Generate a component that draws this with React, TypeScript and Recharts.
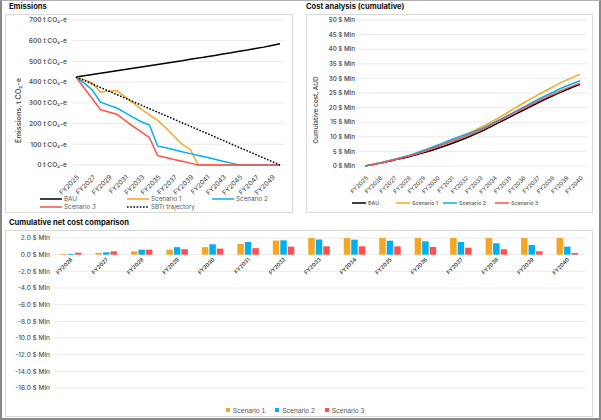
import { LineChart, Line, BarChart, Bar, XAxis, YAxis, CartesianGrid, Legend, ReferenceDot } from 'recharts';

// ---- Emissions (t CO2-e) ----
const emissionYears = [
  'FY2025', 'FY2026', 'FY2027', 'FY2028', 'FY2029', 'FY2030', 'FY2031', 'FY2032', 'FY2033',
  'FY2034', 'FY2035', 'FY2036', 'FY2037', 'FY2038', 'FY2039', 'FY2040', 'FY2041', 'FY2042',
  'FY2043', 'FY2044', 'FY2045', 'FY2046', 'FY2047', 'FY2048', 'FY2049', 'FY2050',
];
const emissionsBau = [425, 431, 437, 443, 449, 455, 461, 467, 473, 479, 485, 491, 497, 503, 510, 516, 523, 529, 536, 542, 549, 555, 562, 569, 577, 585];
const emissionsScenario1 = [425, 412, 395, 352, 356, 360, 330, 300, 270, 242, 215, 180, 140, 100, 75, 0, 0, 0, 0, 0, 0, 0, 0, 0, 0, 0];
const emissionsScenario2 = [425, 395, 362, 303, 289, 275, 253, 230, 209, 193, 92, 83, 74, 64, 55, 46, 37, 28, 18, 9, 0, 0, 0, 0, 0, 0];
const emissionsScenario3 = [425, 372, 320, 267, 256, 245, 215, 187, 160, 132, 45, 36, 27, 18, 9, 0, 0, 0, 0, 0, 0, 0, 0, 0, 0, 0];
const sbtiTrajectory = [425, 408, 391, 374, 357, 340, 323, 306, 289, 272, 255, 238, 221, 204, 187, 170, 153, 136, 119, 102, 85, 68, 51, 34, 17, 0];
const emissionTicks = [0, 100, 200, 300, 400, 500, 600, 700];

// ---- Cumulative cost ($ Mln) ----
const costYears = [
  'FY2025', 'FY2026', 'FY2027', 'FY2028', 'FY2029', 'FY2030', 'FY2031', 'FY2032',
  'FY2033', 'FY2034', 'FY2035', 'FY2036', 'FY2037', 'FY2038', 'FY2039', 'FY2040',
];
const costBau = [0, 0.9, 2.0, 3.1, 4.4, 5.9, 7.6, 9.5, 11.6, 14.0, 16.5, 19.0, 21.5, 23.8, 26.0, 28.0];
const costScenario1 = [0, 1.0, 2.2, 3.4, 4.8, 6.6, 8.7, 10.8, 13.0, 15.6, 18.5, 21.4, 24.2, 26.8, 29.3, 31.4];
const costScenario2 = [0, 1.0, 2.2, 3.5, 5.2, 7.0, 9.0, 10.7, 12.5, 14.9, 17.4, 20.0, 22.6, 25.0, 27.3, 29.2];
const costScenario3 = [0, 0.9, 2.1, 3.3, 4.8, 6.5, 8.3, 10.1, 12.1, 14.5, 17.1, 19.6, 22.0, 24.3, 26.5, 28.3];
const costTicks = [0, 5, 10, 15, 20, 25, 30, 35, 40, 45, 50];

// ---- Cumulative net cost ($ Mln) ----
const netYears = [
  'FY2026', 'FY2027', 'FY2028', 'FY2029', 'FY2030', 'FY2031', 'FY2032', 'FY2033',
  'FY2034', 'FY2035', 'FY2036', 'FY2037', 'FY2038', 'FY2039', 'FY2040',
];
const netScenario1 = [0.1, 0.2, 0.4, 0.6, 0.9, 1.3, 1.7, 2.0, 2.0, 2.0, 2.0, 2.0, 2.0, 2.0, 2.0];
const netScenario2 = [0.1, 0.28, 0.6, 0.9, 1.25, 1.52, 1.72, 1.82, 1.8, 1.68, 1.6, 1.52, 1.36, 1.16, 0.96];
const netScenario3 = [0.24, 0.4, 0.6, 0.66, 0.72, 0.78, 0.96, 1.0, 1.0, 1.0, 0.92, 0.84, 0.64, 0.4, 0.2];
const netTicks = [-16, -14, -12, -10, -8, -6, -4, -2, 0, 2];

const emissionsData = emissionYears.map((year, i) => ({
  year,
  bau: emissionsBau[i],
  s1: emissionsScenario1[i],
  s2: emissionsScenario2[i],
  s3: emissionsScenario3[i],
  sbti: sbtiTrajectory[i],
}));

const costData = costYears.map((year, i) => ({
  year,
  bau: costBau[i],
  s1: costScenario1[i],
  s2: costScenario2[i],
  s3: costScenario3[i],
}));

const netData = netYears.map((year, i) => ({
  year,
  s1: netScenario1[i],
  s2: netScenario2[i],
  s3: netScenario3[i],
}));

const FONT = 'Inter, "Noto Sans", sans-serif';
const GREY = '#595959';
const GRID = '#e4e4e4';
const ORANGE = '#F5A623';
const BLUE = '#00B0F0';
const RED = '#FF4F4F';

const emissionSeries = [
  { key: 'bau', name: 'BAU', color: '#000000', dash: undefined },
  { key: 's1', name: 'Scenario 1', color: ORANGE, dash: undefined },
  { key: 's2', name: 'Scenario 2', color: BLUE, dash: undefined },
  { key: 's3', name: 'Scenario 3', color: RED, dash: undefined },
  { key: 'sbti', name: 'SBTi trajectory', color: '#000000', dash: '1.6 1.6' },
];

const costSeries = [
  { key: 'bau', name: 'BAU', color: '#000000' },
  { key: 's1', name: 'Scenario 1', color: ORANGE },
  { key: 's2', name: 'Scenario 2', color: BLUE },
  { key: 's3', name: 'Scenario 3', color: RED },
];

const netSeries = [
  { key: 's1', name: 'Scenario 1', color: ORANGE },
  { key: 's2', name: 'Scenario 2', color: BLUE },
  { key: 's3', name: 'Scenario 3', color: RED },
];

function SlantTick({ x, y, payload, size }: any) {
  const ax = x + 2;
  const ay = y + 3;
  return (
    <text
      x={ax}
      y={ay}
      dy="0.35em"
      textAnchor="end"
      transform={`rotate(-45 ${ax} ${ay})`}
      fontSize={size}
      fontFamily={FONT}
      fontWeight={500}
      fill={GREY}
    >
      {payload.value}
    </text>
  );
}

function ValueTick({ x, y, payload, size, weight, format }: any) {
  return (
    <text x={x} y={y} dy="0.35em" textAnchor="end" fontSize={size} fontFamily={FONT} fontWeight={weight} fill={GREY}>
      {format(payload.value)}
    </text>
  );
}

function axisTitle(text: string, dx: number, dy: number, fontSize: number) {
  return ({ viewBox }: any) => {
    const cx = viewBox.x + dx;
    const cy = viewBox.y + viewBox.height / 2 + dy;
    return (
      <text
        x={cx}
        y={cy}
        transform={`rotate(-90 ${cx} ${cy})`}
        textAnchor="middle"
        dominantBaseline="central"
        fontSize={fontSize}
        fontFamily={FONT}
        fontWeight={600}
        fill={GREY}
      >
        {text}
      </text>
    );
  };
}

function EmissionsLegend() {
  return (
    <div
      style={{
        display: 'grid',
        gridTemplateColumns: '87px 85px 80px',
        paddingLeft: 35,
        fontFamily: FONT,
        fontSize: 6.3,
        color: GREY,
        lineHeight: '8px',
      }}
    >
      {emissionSeries.map((s) => (
        <div key={s.key} style={{ display: 'flex', alignItems: 'center', height: 8 }}>
          <svg width={22} height={4} style={{ marginRight: 2 }}>
            <line x1={0} y1={2} x2={22} y2={2} stroke={s.color} strokeWidth={1.5} strokeDasharray={s.dash} />
          </svg>
          <span>{s.name}</span>
        </div>
      ))}
    </div>
  );
}

function CostLegend() {
  const lefts = [46, 90, 137, 189];
  return (
    <div style={{ position: 'relative', height: 12, fontFamily: FONT, fontSize: 5.3, fontWeight: 500, color: GREY }}>
      {costSeries.map((s, i) => (
        <div key={s.key} style={{ position: 'absolute', left: lefts[i], top: 2, display: 'flex', alignItems: 'center', height: 8 }}>
          <svg width={14} height={4} style={{ marginRight: 2 }}>
            <line x1={0} y1={2} x2={14} y2={2} stroke={s.color} strokeWidth={1.5} />
          </svg>
          <span>{s.name}</span>
        </div>
      ))}
    </div>
  );
}

function NetLegend() {
  return (
    <div
      style={{
        display: 'flex',
        justifyContent: 'center',
        gap: 10,
        height: 12,
        alignItems: 'center',
        fontFamily: '"Liberation Sans", Arial, sans-serif',
        fontSize: 6.8,
        color: GREY,
      }}
    >
      {netSeries.map((s) => (
        <div key={s.key} style={{ display: 'flex', alignItems: 'center' }}>
          <span style={{ width: 4, height: 4, background: s.color, marginRight: 3, display: 'inline-block' }} />
          <span>{s.name}</span>
        </div>
      ))}
    </div>
  );
}

function CategoryLabel({ cx, cy, label }: any) {
  const ax = cx + 1;
  const ay = cy + 4;
  return (
    <text
      x={ax}
      y={ay}
      dy="0.35em"
      textAnchor="end"
      transform={`rotate(-45 ${ax} ${ay})`}
      fontSize={5.4}
      fontFamily={FONT}
      fontWeight={600}
      fill="#404040"
    >
      {label}
    </text>
  );
}

const titleStyle: React.CSSProperties = {
  position: 'absolute',
  fontFamily: FONT,
  fontWeight: 700,
  fontSize: 7.6,
  color: '#111',
  lineHeight: '10px',
  whiteSpace: 'nowrap',
};

const boxStyle: React.CSSProperties = {
  position: 'absolute',
  border: '1px solid #d9d9d9',
  boxSizing: 'border-box',
};

export default function App() {
  return (
    <div style={{ position: 'relative', width: 601, height: 420, background: '#fff', overflow: 'hidden' }}>
      <style>{'body{margin:0}'}</style>
      <div
        style={{
          position: 'absolute',
          left: 0,
          top: 0,
          width: 601,
          height: 420,
          boxSizing: 'border-box',
          borderLeft: '2px solid #8a8a8a',
          borderRight: '2px solid #8a8a8a',
          borderBottom: '2px solid #8a8a8a',
          borderTop: '1px solid #b0b0b0',
        }}
      />

      <div style={{ ...titleStyle, left: 9, top: 2 }}>Emissions</div>
      <div style={{ ...boxStyle, left: 5, top: 14, width: 288, height: 199 }} />
      <div style={{ position: 'absolute', left: 5, top: 14 }}>
        <LineChart width={288} height={199} data={emissionsData} margin={{ top: 6, right: 9, left: 0, bottom: 0 }}>
          <CartesianGrid vertical={false} stroke={GRID} strokeWidth={0.8} />
          <XAxis
            dataKey="year"
            interval={1}
            axisLine={false}
            tickLine={false}
            height={30}
            padding={{ left: 4, right: 4 }}
            tick={<SlantTick size={6.6} />}
          />
          <YAxis
            domain={[0, 700]}
            ticks={emissionTicks}
            interval={0}
            width={67}
            axisLine={false}
            tickLine={false}
            tickSize={0}
            tickMargin={5}
            tick={<ValueTick size={6.6} weight={600} format={(v: number) => `${v} t CO₂-e`} />}
            label={{ content: axisTitle('Emissions, t CO₂-e', 13, 18, 7.2) }}
          />
          <Legend verticalAlign="bottom" height={18} content={<EmissionsLegend />} />
          {emissionSeries.map((s) => (
            <Line
              key={s.key}
              dataKey={s.key}
              name={s.name}
              stroke={s.color}
              strokeWidth={1.5}
              strokeDasharray={s.dash}
              dot={false}
              type="linear"
              isAnimationActive={false}
            />
          ))}
        </LineChart>
      </div>

      <div style={{ ...titleStyle, left: 306, top: 2 }}>Cost analysis (cumulative)</div>
      <div style={{ ...boxStyle, left: 306, top: 14, width: 287, height: 199 }} />
      <div style={{ position: 'absolute', left: 306, top: 14 }}>
        <LineChart width={287} height={199} data={costData} margin={{ top: 6, right: 6, left: 0, bottom: 4 }}>
          <CartesianGrid vertical={false} stroke={GRID} strokeWidth={0.8} />
          <XAxis
            dataKey="year"
            interval={0}
            axisLine={false}
            tickLine={false}
            height={31}
            padding={{ left: 7, right: 7 }}
            tick={<SlantTick size={5.8} />}
          />
          <YAxis
            domain={[0, 50]}
            ticks={costTicks}
            interval={0}
            width={52}
            axisLine={false}
            tickLine={false}
            tickSize={0}
            tickMargin={3}
            tick={<ValueTick size={6.2} weight={600} format={(v: number) => `${v} $ Mln`} />}
            label={{ content: axisTitle('Cumulative cost, AUD', 10, 17, 6.4) }}
          />
          <Legend verticalAlign="bottom" height={12} content={<CostLegend />} />
          {costSeries.map((s) => (
            <Line
              key={s.key}
              dataKey={s.key}
              name={s.name}
              stroke={s.color}
              strokeWidth={1.5}
              dot={false}
              type="monotone"
              isAnimationActive={false}
            />
          ))}
        </LineChart>
      </div>

      <div style={{ ...titleStyle, left: 9, top: 218 }}>Cumulative net cost comparison</div>
      <div style={{ ...boxStyle, left: 5, top: 230, width: 588, height: 187 }} />
      <div style={{ position: 'absolute', left: 5, top: 230 }}>
        <BarChart
          width={588}
          height={186}
          data={netData}
          margin={{ top: 8, right: 8, left: 0, bottom: 16 }}
          barSize={6.5}
          barGap={1}
        >
          <CartesianGrid vertical={false} stroke={GRID} strokeWidth={0.8} />
          <XAxis dataKey="year" hide />
          <YAxis
            domain={[-16, 2]}
            ticks={netTicks}
            interval={0}
            width={48}
            axisLine={false}
            tickLine={false}
            tickSize={0}
            tickMargin={3}
            tick={<ValueTick size={6.5} weight={500} format={(v: number) => `${v.toFixed(1)} $ Mln`} />}
          />
          <Legend verticalAlign="bottom" height={12} wrapperStyle={{ bottom: 0 }} content={<NetLegend />} />
          {netSeries.map((s) => (
            <Bar key={s.key} dataKey={s.key} name={s.name} fill={s.color} isAnimationActive={false} />
          ))}
          {netYears.map((year) => (
            <ReferenceDot
              key={year}
              x={year}
              y={0}
              r={1}
              shape={(p: any) => <CategoryLabel cx={p.cx} cy={p.cy} label={year} />}
            />
          ))}
        </BarChart>
      </div>
    </div>
  );
}
